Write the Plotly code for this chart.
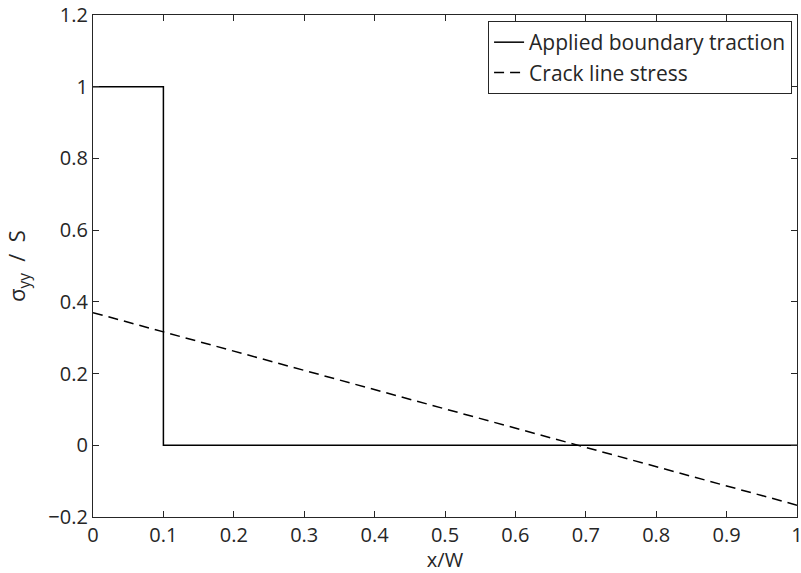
import plotly.graph_objects as go

# Data
traction_x = [0, 0.1, 0.1, 1.0]
traction_y = [1.0, 1.0, 0.0, 0.0]
crack_x = [0, 1.0]
crack_y = [0.37, -0.167]

x_ticks = [0, 0.1, 0.2, 0.3, 0.4, 0.5, 0.6, 0.7, 0.8, 0.9, 1]
x_labels = ["0", "0.1", "0.2", "0.3", "0.4", "0.5", "0.6", "0.7", "0.8", "0.9", "1"]
y_ticks = [-0.2, 0, 0.2, 0.4, 0.6, 0.8, 1, 1.2]
y_labels = ["\u22120.2", "0", "0.2", "0.4", "0.6", "0.8", "1", "1.2"]

font_family = "Open Sans, Lato, sans-serif"
ink = "#262626"

fig = go.Figure()
fig.add_trace(go.Scatter(x=traction_x, y=traction_y, mode="lines",
                         name="Applied boundary traction",
                         line=dict(color="black", width=1.5)))
fig.add_trace(go.Scatter(x=crack_x, y=crack_y, mode="lines",
                         name="Crack line stress",
                         line=dict(color="black", width=1.5, dash="10px,6px")))

axis_common = dict(showgrid=False, zeroline=False, showline=True, mirror="ticks",
                   linecolor=ink, linewidth=1.2, ticks="inside", ticklen=6,
                   tickcolor=ink, tickwidth=1, automargin=False,
                   ticklabeloverflow="allow",
                   tickfont=dict(size=20, color=ink, family=font_family))

fig.update_xaxes(range=[0, 1], tickvals=x_ticks, ticktext=x_labels,
                 title=dict(text="x/W", font=dict(size=20, color=ink, family=font_family),
                            standoff=0),
                 **axis_common)
fig.update_yaxes(range=[-0.2, 1.2], tickvals=y_ticks, ticktext=y_labels,
                 title=dict(text="\u03c3<sub>yy</sub>  /  S",
                            font=dict(size=22, color=ink, family=font_family),
                            standoff=16),
                 **axis_common)

fig.update_layout(
    width=801, height=573,
    margin=dict(l=93, r=4, t=15, b=56),
    plot_bgcolor="white", paper_bgcolor="white",
    font=dict(family=font_family, color=ink),
    legend=dict(x=0.993, y=0.988, xanchor="right", yanchor="top",
                bgcolor="white", bordercolor=ink, borderwidth=1,
                font=dict(size=21, color=ink, family=font_family),
                tracegroupgap=0),
)

fig.write_html("out.html",
               config={"displayModeBar": False},
               post_script="document.body.style.margin='0';document.body.style.overflow='hidden';")
